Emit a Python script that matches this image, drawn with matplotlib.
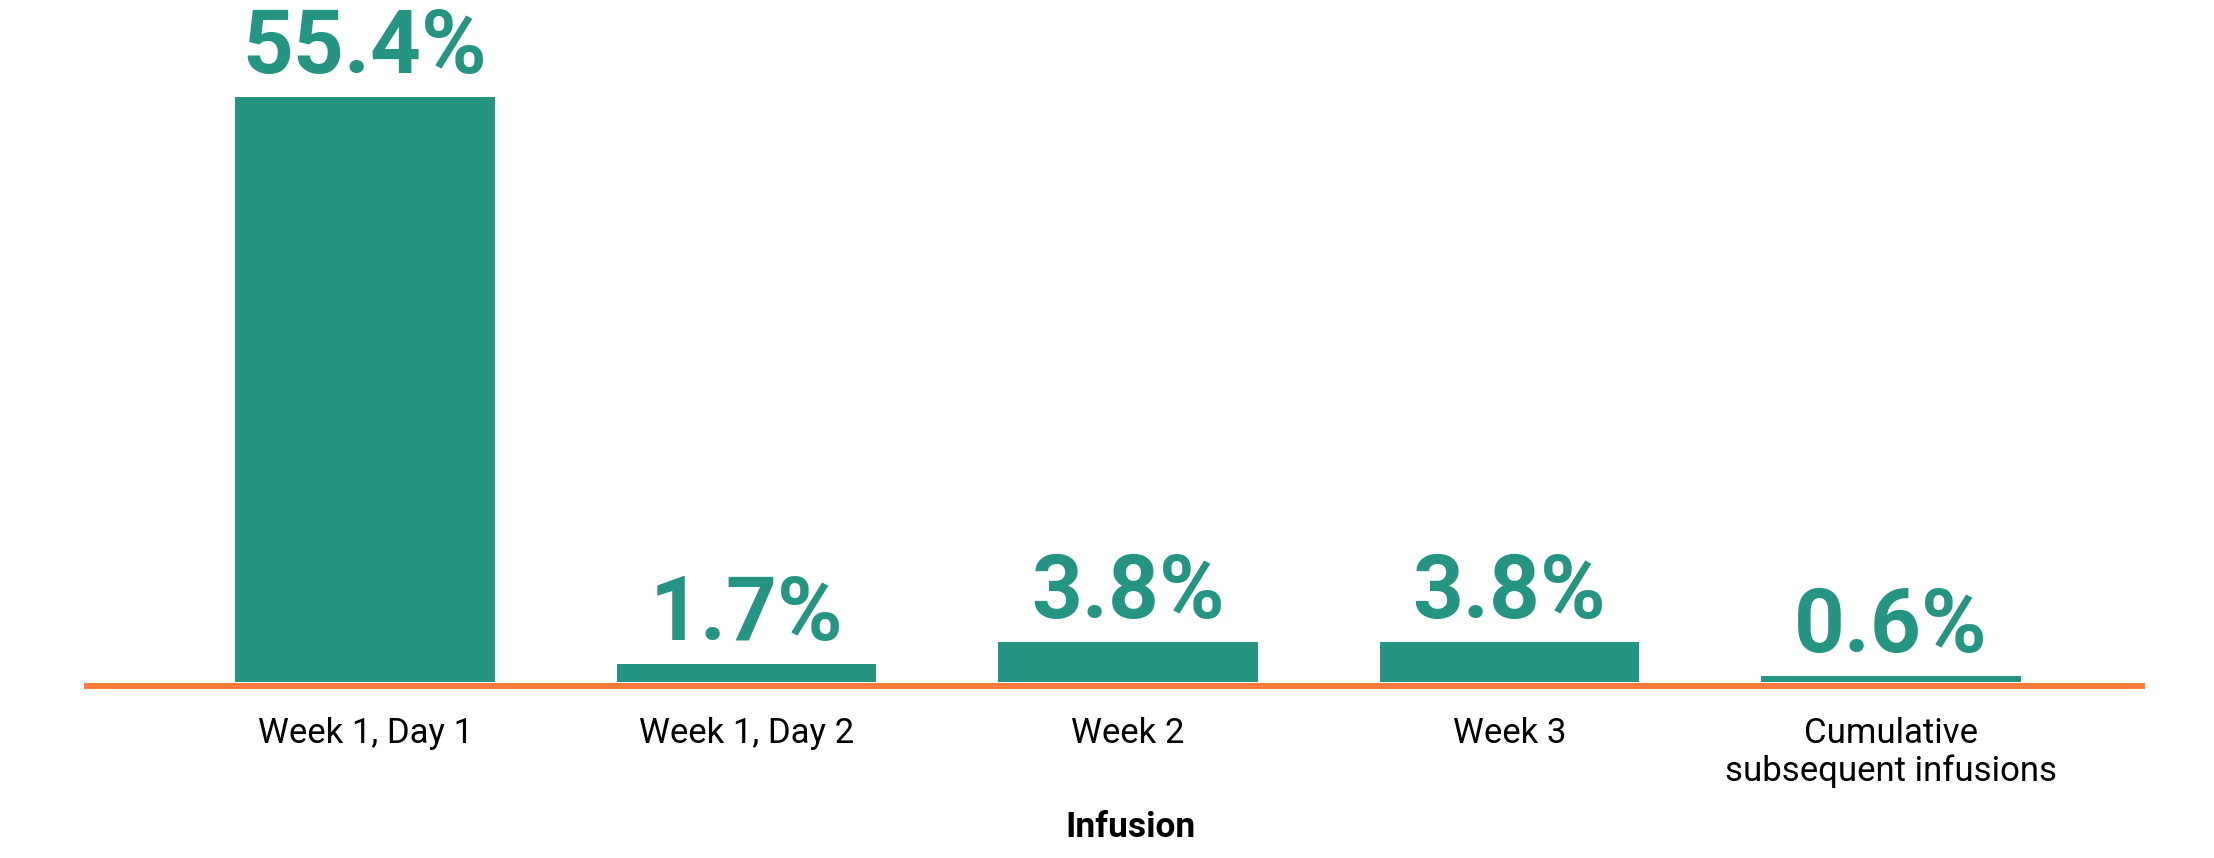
import matplotlib
matplotlib.use("Agg")
import matplotlib.pyplot as plt

categories = ["Week 1, Day 1", "Week 1, Day 2", "Week 2", "Week 3",
              "Cumulative\nsubsequent infusions"]
values = [55.4, 1.7, 3.8, 3.8, 0.6]
value_labels = ["55.4%", "1.7%", "3.8%", "3.8%", "0.6%"]

TEAL = "#269482"
ORANGE = "#FF7B3A"
W, H = 2214, 858
DPI = 100

fig = plt.figure(figsize=(W / DPI, H / DPI), dpi=DPI)
ax_left, ax_right = 87, 2142
ax_bottom = 682
ax = fig.add_axes([ax_left / W, (H - ax_bottom) / H,
                   (ax_right - ax_left) / W, ax_bottom / H])

x = list(range(len(categories)))
ax.bar(x, values, width=0.68, color=TEAL, zorder=2)
ax.set_xlim(-0.729, 4.658)
ax.set_ylim(0, ax_bottom / 10.56)

for xi, v, lab in zip(x, values, value_labels):
    ax.annotate(lab, (xi, v), xytext=(0, 17.3), textcoords="offset points",
                ha="center", va="baseline", fontsize=64, fontweight="bold",
                family="Roboto", color=TEAL)

for s in ["top", "left", "right"]:
    ax.spines[s].set_visible(False)
ax.spines["bottom"].set_color(ORANGE)
ax.spines["bottom"].set_linewidth(4.3)
ax.spines["bottom"].set_zorder(3)
ax.spines["bottom"].set_position(("outward", 2.9))
ax.set_yticks([])
ax.set_xticks(x)
ax.set_xticklabels(categories, fontsize=25, family="Roboto", linespacing=1.15)
ax.tick_params(axis="x", length=0, pad=22.5)

fig.text(1130 / W, (H - 837) / H, "Infusion", ha="center", va="baseline",
         fontsize=25.5, fontweight="bold", family="Roboto", color="black")

fig.savefig("out.png", dpi=DPI, facecolor="white")
